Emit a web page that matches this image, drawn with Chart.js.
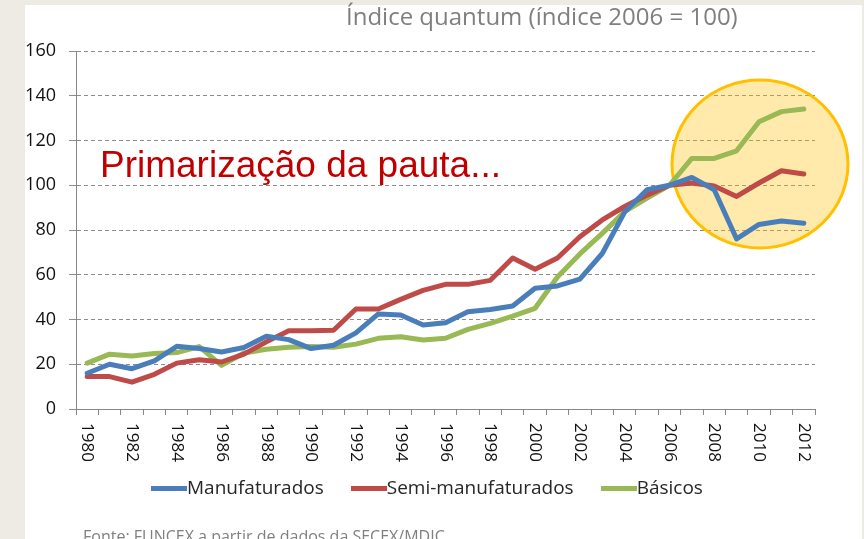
<!DOCTYPE html>
<html lang="pt-BR">
<head>
<meta charset="utf-8">
<script src="https://cdn.jsdelivr.net/npm/chart.js@4/dist/chart.umd.min.js"></script>
<style>
  html, body { margin: 0; padding: 0; }
  body { width: 864px; height: 539px; overflow: hidden; background: #eeebe4; position: relative; font-family: "Open Sans", sans-serif; }
  .painel { position: absolute; left: 25px; top: 5px; width: 837px; height: 534px; background: #fff; }
  #grafico { position: absolute; left: 0; top: 0; }
  .texto { position: absolute; white-space: nowrap; line-height: 1; }
  .titulo { left: 346px; top: 4px; font-size: 24px; color: #7f7f7f; }
  .destaque { left: 100px; top: 146px; font-family: "Liberation Sans", Arial, sans-serif; font-size: 37px; color: #c00000; }
  .fonte { left: 83px; top: 528px; font-size: 16px; color: #7f7f7f; }
  .legenda { position: absolute; left: 151px; top: 478px; display: flex; gap: 27px; font-size: 19px; color: #262626; line-height: 1; }
  .legenda .item { display: flex; align-items: center; }
  .legenda .traco { width: 36px; height: 5px; margin-top: 2px; }
</style>
</head>
<body>
<div class="painel"></div>
<canvas id="grafico" width="864" height="539"></canvas>
<div class="texto titulo">Índice quantum (índice 2006 = 100)</div>
<div class="texto destaque">Primarização da pauta...</div>
<div class="legenda" id="legenda"></div>
<div class="texto fonte">Fonte: FUNCEX a partir de dados da SECEX/MDIC</div>

<script>
// Dados (índice 2006 = 100)
const anos = [];
for (let a = 1980; a <= 2012; a++) anos.push(String(a));

const manufaturados = [16, 20, 18, 21.5, 28, 27, 25.5, 27.5, 32.5, 31, 27, 28.5, 34, 42.5, 42, 37.5, 38.5, 43.5, 44.5, 46, 54, 55, 58, 69.5, 88, 98, 100, 103.5, 98, 76, 82.5, 84, 83];
const semiManufaturados = [14.5, 14.5, 12, 15.5, 20.5, 22, 21, 24.5, 30, 35, 35, 35.2, 44.7, 44.7, 49, 53, 55.7, 55.7, 57.5, 67.5, 62.5, 67.5, 77, 84.5, 90.5, 95.6, 100, 101, 99.7, 95, 101, 106.5, 105];
const basicos = [20.5, 24.5, 23.7, 24.8, 25.2, 27.9, 19.5, 25, 26.7, 27.6, 27.9, 27.6, 29, 31.6, 32.3, 30.8, 31.6, 35.6, 38.3, 41.5, 45, 59, 69.3, 78.5, 88.2, 94.2, 100, 112, 112, 115.4, 128.4, 132.9, 134.1];

const nomesSeries = ['Manufaturados', 'Semi-manufaturados', 'Básicos'];
const coresSeries = ['#4a7ebb', '#be4b48', '#98b954'];

// legenda em HTML
const legendaDiv = document.getElementById('legenda');
nomesSeries.forEach((nome, i) => {
    legendaDiv.innerHTML += `<div class="item"><div class="traco" style="background:${coresSeries[i]}"></div><span>${nome}</span></div>`;
});

// círculo amarelo em volta do fim da série
const circuloPlugin = {
    id: 'circulo',
    beforeDatasetsDraw(chart) {
        const ctx = chart.ctx;
        ctx.save();
        ctx.beginPath();
        ctx.ellipse(760, 164, 88, 84, 0, 0, Math.PI * 2);
        ctx.fillStyle = 'rgba(255, 192, 0, 0.33)';
        ctx.fill();
        ctx.lineWidth = 3;
        ctx.strokeStyle = '#ffc000';
        ctx.stroke();
        ctx.restore();
    }
};

// rótulos do eixo x girados 90° (lidos de cima para baixo), um ano sim outro não
const rotulosXPlugin = {
    id: 'rotulosX',
    afterDraw(chart) {
        const ctx = chart.ctx;
        const xScale = chart.scales.x;
        ctx.save();
        ctx.font = '17px "Open Sans"';
        ctx.fillStyle = '#111';
        ctx.textAlign = 'left';
        ctx.textBaseline = 'middle';
        anos.forEach((ano, i) => {
            if (Number(ano) % 2 !== 0) return;
            const x = xScale.getPixelForValue(i);
            ctx.save();
            ctx.translate(x, xScale.top + 14);
            ctx.rotate(Math.PI / 2);
            ctx.fillText(ano, 0, 0);
            ctx.restore();
        });
        ctx.restore();
    }
};

const series = [manufaturados, semiManufaturados, basicos];

new Chart(document.getElementById('grafico').getContext('2d'), {
    type: 'line',
    data: {
        labels: anos,
        datasets: series.map((dados, i) => ({
            label: nomesSeries[i],
            data: dados,
            borderColor: coresSeries[i],
            backgroundColor: coresSeries[i],
            borderWidth: 5,
            pointRadius: 0,
            tension: 0,
            borderJoinStyle: 'round',
            borderCapStyle: 'round'
        }))
    },
    options: {
        responsive: false,
        animation: false,
        devicePixelRatio: 1,
        layout: { padding: { left: 0, top: 51, right: 49, bottom: 0 } },
        plugins: {
            legend: { display: false },
            title: { display: false },
            tooltip: { enabled: false }
        },
        scales: {
            x: {
                type: 'category',
                offset: true,
                afterFit: (scale) => { scale.height = 130; },
                grid: { offset: true, drawOnChartArea: false, drawTicks: true, tickLength: 6, color: '#868686' },
                border: { color: '#868686', width: 1 },
                ticks: { display: false, autoSkip: false }
            },
            y: {
                min: 0,
                max: 160,
                afterFit: (scale) => { scale.width = 76; },
                ticks: { stepSize: 20, padding: 13, color: '#111', font: { family: '"Open Sans"', size: 18 } },
                grid: { color: '#8c8c8c', tickLength: 7, tickBorderDash: [] },
                border: { color: '#868686', width: 1, dash: [4, 3] }
            }
        }
    },
    plugins: [circuloPlugin, rotulosXPlugin]
});
</script>
</body>
</html>
